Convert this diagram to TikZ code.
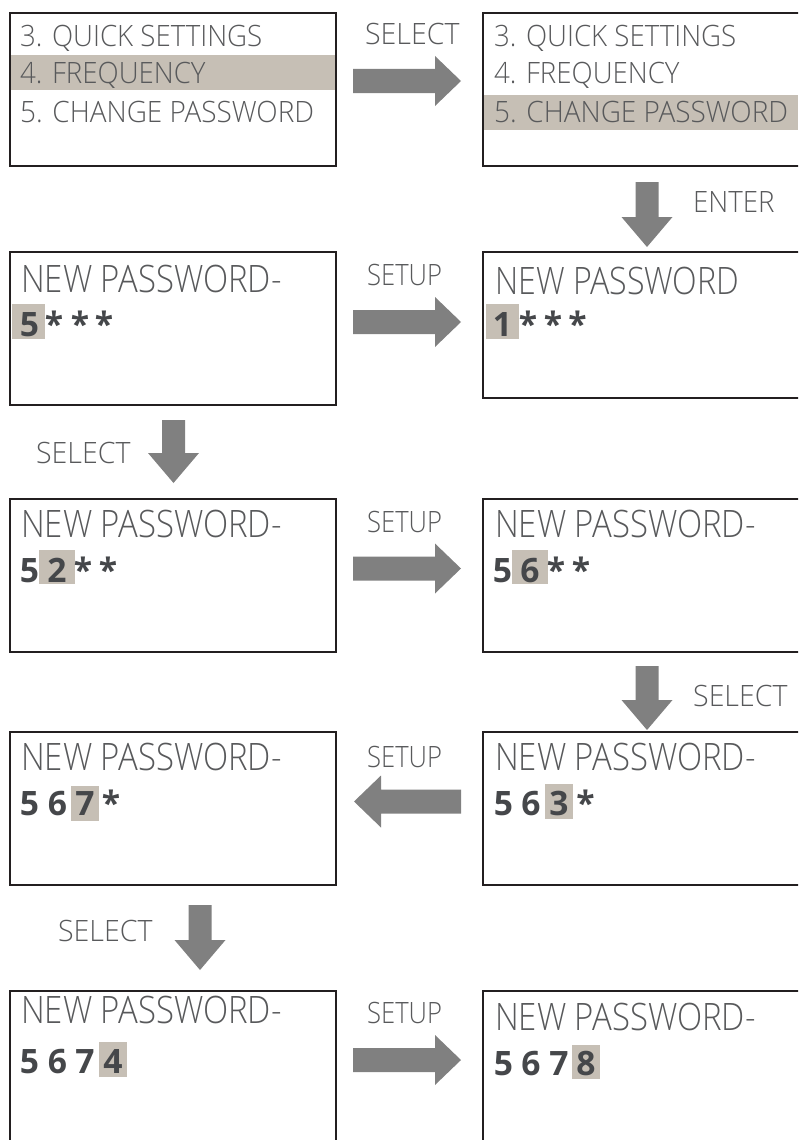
\documentclass[tikz,border=0pt]{standalone}
\usepackage{fontspec}
\setmainfont{Open Sans}[UprightFont={* Light}, BoldFont={* Bold}]
\definecolor{boxc}{HTML}{231F20}
\definecolor{txtc}{HTML}{58595B}
\definecolor{digc}{HTML}{45474A}
\definecolor{hlc}{HTML}{C6BFB5}
\definecolor{arrc}{HTML}{808080}
\newcommand\hs[2]{\scalebox{#1}[1]{#2}}
\newcommand\arrR[3]{\fill[arrc] (#1,#3-12) -- (#2-26,#3-12) -- (#2-26,#3-25) -- (#2,#3) -- (#2-26,#3+25) -- (#2-26,#3+12) -- (#1,#3+12) -- cycle;}
\newcommand\arrL[3]{\fill[arrc] (#2,#3-12) -- (#1+27,#3-12) -- (#1+27,#3-26) -- (#1,#3) -- (#1+27,#3+26) -- (#1+27,#3+12) -- (#2,#3+12) -- cycle;}
\newcommand\arrD[3]{\fill[arrc] (#1-11.5,#2) -- (#1+11.5,#2) -- (#1+11.5,#3-30) -- (#1+25.5,#3-30) -- (#1,#3) -- (#1-25.5,#3-30) -- (#1-11.5,#3-30) -- cycle;}
\tikzset{
  box/.style={draw=boxc, line width=2pt, fill=white, anchor=north west, inner sep=0pt, outer sep=0pt},
  txt/.style={anchor=base west, inner sep=0pt, text=txtc, font=\fontsize{29.4}{30}\selectfont},
  lbl/.style={anchor=base west, inner sep=0pt, text=txtc, font=\fontsize{29.4}{30}\selectfont},
  ttl/.style={anchor=base west, inner sep=0pt, text=txtc, font=\fontsize{37.8}{38}\selectfont},
  dig/.style={anchor=base, inner sep=0pt, text=digc, font=\fontsize{33.6}{34}\selectfont\bfseries},
  hl/.style={fill=hlc, draw=none}
}
\begin{document}
\begin{tikzpicture}[x=1pt,y=-1pt]
\useasboundingbox (0,0) rectangle (798,1140);
\clip (0,0) rectangle (798,1140);
% boxes
\node[box, minimum width=326, minimum height=153] (L1) at (10,13) {};
\node[box, minimum width=330, minimum height=153] (R1) at (483,13) {};
\node[box, minimum width=326, minimum height=153] (L2) at (10,252) {};
\node[box, minimum width=330, minimum height=146] (R2) at (483,252) {};
\node[box, minimum width=326, minimum height=153] (L3) at (10,499) {};
\node[box, minimum width=330, minimum height=153] (R3) at (483,499) {};
\node[box, minimum width=326, minimum height=153] (L4) at (10,732) {};
\node[box, minimum width=330, minimum height=153] (R4) at (483,732) {};
\node[box, minimum width=326, minimum height=160] (L5) at (10,991) {};
\node[box, minimum width=330, minimum height=160] (R5) at (483,991) {};
% highlights
\fill[hl] (11,55) rectangle (335,90);
\fill[hl] (484,95) rectangle (798,130);
\fill[hl] (12,304) rectangle (45,339);
\fill[hl] (486,304) rectangle (519,339);
\fill[hl] (39,550) rectangle (75,584);
\fill[hl] (512,550) rectangle (548,584);
\fill[hl] (71,786) rectangle (99,821);
\fill[hl] (545,784) rectangle (573,819);
\fill[hl] (99,1042) rectangle (127,1077);
\fill[hl] (572,1045) rectangle (600,1079);
% row 1
\node[txt] (l1a) at (20,47) {\hs{0.94}{3. QUICK SETTINGS}};
\node[txt] (l1b) at (20,84) {\hs{0.94}{4. FREQUENCY}};
\node[txt] (l1c) at (20,122) {\hs{0.95}{5. CHANGE PASSWORD}};
\node[txt] (r1a) at (494,47) {\hs{0.94}{3. QUICK SETTINGS}};
\node[txt] (r1b) at (494,84) {\hs{0.94}{4. FREQUENCY}};
\node[txt] (r1c) at (494,122) {\hs{0.95}{5. CHANGE PASSWORD}};
% row 2
\node[ttl] (l2t) at (21,292) {\hs{0.87}{NEW PASSWORD-}};
\node[dig] at (29.5,336) {5};
\node[dig] at (54,336) {*};
\node[dig] at (80,336) {*};
\node[dig] at (104,336) {*};
\node[ttl] (r2t) at (495,294) {\hs{0.85}{NEW PASSWORD}};
\node[dig] at (502.5,336) {1};
\node[dig] at (528,336) {*};
\node[dig] at (553,336) {*};
\node[dig] at (577.5,336) {*};
% row 3
\node[ttl] (l3t) at (21,537) {\hs{0.87}{NEW PASSWORD-}};
\node[dig] at (29.5,582) {5};
\node[dig] at (57,582) {2};
\node[dig] at (83,582) {*};
\node[dig] at (108,582) {*};
\node[ttl] (r3t) at (495,537) {\hs{0.87}{NEW PASSWORD-}};
\node[dig] at (502.5,582) {5};
\node[dig] at (530,582) {6};
\node[dig] at (556,582) {*};
\node[dig] at (581,582) {*};
% row 4
\node[ttl] (l4t) at (21,770) {\hs{0.87}{NEW PASSWORD-}};
\node[dig] at (29.5,815) {5};
\node[dig] at (57.5,815) {6};
\node[dig] at (85,815) {7};
\node[dig] at (111,815) {*};
\node[ttl] (r4t) at (495,770) {\hs{0.87}{NEW PASSWORD-}};
\node[dig] at (503.5,815) {5};
\node[dig] at (531,815) {6};
\node[dig] at (559,815) {3};
\node[dig] at (585.5,815) {*};
% row 5
\node[ttl] (l5t) at (21,1023) {\hs{0.87}{NEW PASSWORD-}};
\node[dig] at (29.5,1073) {5};
\node[dig] at (57.5,1073) {6};
\node[dig] at (85,1073) {7};
\node[dig] at (113,1073) {4};
\node[ttl] (r5t) at (495,1030) {\hs{0.87}{NEW PASSWORD-}};
\node[dig] at (503.5,1075) {5};
\node[dig] at (531,1075) {6};
\node[dig] at (559,1075) {7};
\node[dig] at (586,1075) {8};
% arrows and labels
\arrR{353}{461}{81}
\node[lbl] (s1) at (365,45) {\hs{0.97}{SELECT}};
\arrD{647}{182}{247}
\node[lbl] (e1) at (693,212) {\hs{0.94}{ENTER}};
\arrR{353}{461}{322}
\node[lbl] (s2) at (367,285) {\hs{0.87}{SETUP}};
\arrD{173.5}{420}{483}
\node[lbl] (s3) at (36,463) {\hs{0.97}{SELECT}};
\arrR{353}{461}{568.5}
\node[lbl] (s4) at (367,532) {\hs{0.87}{SETUP}};
\arrD{647}{666}{730}
\node[lbl] (s5) at (693,706) {\hs{0.97}{SELECT}};
\arrL{354}{461}{801.5}
\node[lbl] (s6) at (367,767) {\hs{0.87}{SETUP}};
\arrD{200}{905}{970}
\node[lbl] (s7) at (58,941) {\hs{0.97}{SELECT}};
\arrR{353}{461}{1060}
\node[lbl] (s8) at (367,1023) {\hs{0.87}{SETUP}};
\end{tikzpicture}
\end{document}
